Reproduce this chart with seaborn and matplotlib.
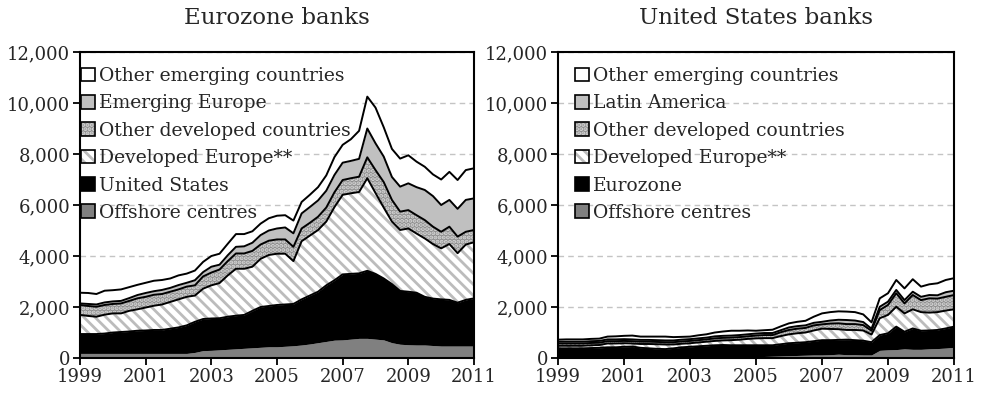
import numpy as np
import pandas as pd
import matplotlib
matplotlib.use("Agg")
import matplotlib.pyplot as plt
from matplotlib.patches import Patch
from matplotlib.legend_handler import HandlerTuple
from matplotlib.ticker import FuncFormatter
import seaborn as sns

# quarterly observations, 1999Q1 .. 2011Q1
quarters = np.arange(1999, 2011.001, 0.25)

# --- Eurozone banks (bottom layer first) ---
ez_offshore = [180] * 14 + [220, 290, 300, 320, 340, 360, 380, 400, 420, 440,
                            440, 460, 480, 510, 550, 600, 650, 700, 710, 740,
                            770, 770, 740, 710, 600, 540, 520, 510, 510, 490,
                            470, 470, 470, 470, 470]
ez_us = [760, 760, 760, 780, 820, 840, 860, 890, 900, 920,
         920, 970, 1020, 1100, 1200, 1240, 1250, 1240, 1280, 1300,
         1310, 1450, 1580, 1600, 1640, 1640, 1640, 1790, 1900, 2000,
         2200, 2350, 2570, 2560, 2550, 2650, 2560, 2410, 2300, 2090,
         2080, 2050, 1890, 1840, 1830, 1810, 1700, 1810, 1870]
ez_dev_europe = [750, 710, 680, 740, 750, 730, 810, 840, 900, 950,
                 1000, 1050, 1100, 1120, 1030, 1190, 1300, 1380, 1620, 1840,
                 1810, 1730, 1890, 2000, 2010, 1990, 1680, 2280, 2350, 2420,
                 2500, 2870, 3120, 3160, 3190, 3630, 3170, 2780, 2450, 2390,
                 2480, 2320, 2290, 2140, 2000, 2190, 1940, 2170, 2200]
ez_other_dev = [390, 390, 390, 380, 370, 390, 390, 430, 420, 430,
                410, 400, 390, 400, 400, 480, 500, 530, 560, 600,
                600, 620, 560, 560, 560, 560, 560, 500, 500, 520,
                550, 580, 580, 590, 600, 820, 900, 1000, 850, 720,
                720, 720, 720, 680, 650, 680, 650, 500, 480]
ez_em_europe = [60, 80, 90, 100, 100, 100, 110, 130, 150, 140,
                160, 150, 170, 150, 200, 170, 230, 190, 230, 260,
                280, 320, 370, 400, 430, 470, 530, 590, 620, 640,
                660, 680, 680, 680, 700, 1130, 1050, 1000, 900, 980,
                1050, 1100, 1180, 1200, 1050, 1050, 1090, 1250, 1240]
ez_other_em = [420, 430, 410, 460, 440, 450, 430, 400, 400, 410,
               390, 370, 380, 360, 380, 400, 420, 430, 450, 500,
               480, 450, 450, 480, 500, 480, 500, 450, 480, 520,
               600, 700, 700, 850, 1100, 1250, 1400, 1150, 1100, 1100,
               1100, 1000, 910, 850, 1000, 1100, 1130, 1170, 1180]

# --- United States banks (bottom layer first) ---
us_offshore = [20] * 24 + [40, 60, 70, 80, 90, 100, 110, 120, 120, 130,
                           150, 130, 130, 120, 120, 300, 320, 330, 360, 340,
                           340, 360, 370, 390, 420]
us_eurozone = [360, 360, 360, 360, 370, 380, 400, 400, 420, 430,
               380, 360, 340, 330, 360, 400, 420, 440, 460, 480,
               490, 480, 480, 480, 460, 440, 430, 460, 490, 500,
               510, 540, 580, 570, 560, 590, 570, 560, 500, 600,
               650, 900, 670, 820, 730, 720, 730, 770, 810]
us_dev_europe = [100, 100, 100, 100, 110, 110, 150, 150, 140, 120,
                 150, 170, 180, 180, 150, 140, 140, 150, 160, 170,
                 180, 200, 220, 250, 270, 280, 280, 320, 350, 370,
                 380, 420, 450, 440, 420, 380, 400, 400, 300, 660,
                 720, 780, 720, 750, 730, 700, 700, 700, 680]
us_other_dev = [90] * 19 + [100, 100, 100, 100, 100,
                            110, 120, 120, 150, 170, 180, 180, 200, 170, 210,
                            230, 230, 230, 210, 150, 320, 390, 530, 390, 560,
                            470, 560, 530, 540, 560]
us_latam = [70] * 19 + [80] * 9 + [100, 100, 100, 100, 100, 120, 140, 160, 140, 120,
                                   80, 130, 130, 130, 130, 130, 130, 130, 130, 180, 170]
us_other_em = [80, 90, 90, 90, 90, 90, 110, 120, 130, 150,
               130, 130, 140, 150, 130, 110, 100, 120, 130, 150,
               170, 190, 170, 150, 110, 110, 130, 150, 160, 170,
               180, 240, 330, 330, 330, 330, 330, 300, 250, 330,
               330, 390, 460, 490, 400, 420, 470, 480, 490]

ez_labels = ["Offshore centres", "United States", "Developed Europe**",
             "Other developed countries", "Emerging Europe", "Other emerging countries"]
us_labels = ["Offshore centres", "Eurozone", "Developed Europe**",
             "Other developed countries", "Latin America", "Other emerging countries"]

# fill colour, hatch colour, hatch pattern for each layer
face = ["#808080", "#000000", "#ffffff", "#8e8e8e", "#c0c0c0", "#ffffff"]
hatch_col = ["#808080", "#000000", "#bcbcbc", "#d6d6d6", "#c0c0c0", "#ffffff"]
hatches = [None, None, "\\\\\\", "....", None, None]

sns.set_style("white")
plt.rcParams["font.family"] = ["DejaVu Serif"]
plt.rcParams["hatch.linewidth"] = 2.0

fig = plt.figure(figsize=(9.83, 3.97), dpi=100)
ax_ez = fig.add_axes([0.0814, 0.0982, 0.4008, 0.7708])
ax_us = fig.add_axes([0.5677, 0.0982, 0.4028, 0.7708])


def draw_panel(ax, series, labels, title, legend_x):
    polys = ax.stackplot(quarters, *series, colors=face, zorder=2)
    for poly, hc, h in zip(polys, hatch_col, hatches):
        poly.set_edgecolor(hc)
        poly.set_linewidth(0)
        if h:
            poly.set_hatch(h)

    # black outlines on top of each layer above the offshore one
    cum = np.cumsum(np.array(series), axis=0)
    rows = []
    for k in range(1, len(series)):
        for q, v in zip(quarters, cum[k]):
            rows.append({"year": q, "value": v, "level": k})
    lines = pd.DataFrame(rows)
    sns.lineplot(data=lines, x="year", y="value", units="level", estimator=None,
                 color="black", lw=1.4, ax=ax, zorder=3, legend=False)

    ax.set_xlim(1999, 2011)
    ax.set_ylim(0, 12000)
    ax.set_xticks(range(1999, 2012, 2))
    ax.set_yticks(range(0, 12001, 2000))
    ax.yaxis.set_major_formatter(FuncFormatter(lambda v, p: f"{v:,.0f}"))
    ax.set_xlabel("")
    ax.set_ylabel("")
    ax.tick_params(direction="out", length=5, width=1.3, labelsize=13, pad=2,
                   bottom=True, left=True, color="black")
    ax.set_axisbelow(True)
    ax.yaxis.grid(True, ls=(0, (4, 3)), color="#c4c4c4", lw=1)
    for sp in ax.spines.values():
        sp.set_linewidth(1.5)
        sp.set_color("black")
        sp.set_zorder(4)
    ax.set_title(title, fontsize=16.5, pad=20)

    handles = []
    for fc, hc, h in zip(face, hatch_col, hatches):
        fill = Patch(facecolor=fc, edgecolor=hc, hatch=h, lw=0)
        edge = Patch(facecolor="none", edgecolor="black", lw=1.2)
        handles.append((fill, edge))
    ax.legend(handles[::-1], labels[::-1], loc="upper left",
              bbox_to_anchor=(legend_x, 1.0), frameon=False, fontsize=13.5,
              handlelength=0.75, handleheight=0.75, handletextpad=0.2,
              labelspacing=0.5, borderaxespad=0.65, borderpad=0.15,
              handler_map={tuple: HandlerTuple(ndivide=1, pad=0)})


draw_panel(ax_ez, [ez_offshore, ez_us, ez_dev_europe, ez_other_dev, ez_em_europe, ez_other_em],
           ez_labels, "Eurozone banks", -0.035)
draw_panel(ax_us, [us_offshore, us_eurozone, us_dev_europe, us_other_dev, us_latam, us_other_em],
           us_labels, "United States banks", 0.005)

fig.savefig("out.png", dpi=100)
